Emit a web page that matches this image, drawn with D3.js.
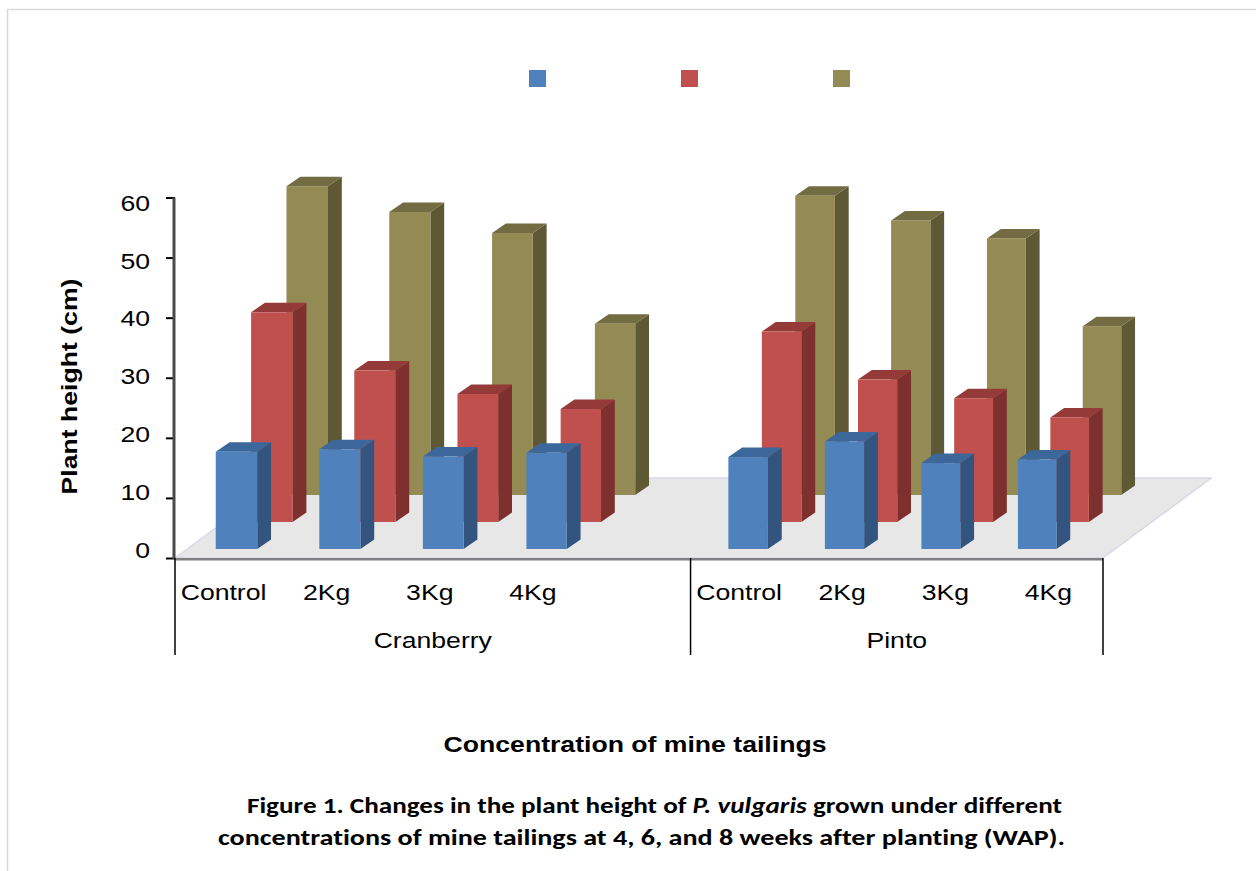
<!DOCTYPE html>
<html>
<head>
<meta charset="utf-8">
<script src="https://cdn.jsdelivr.net/npm/d3@7"></script>
<style>
  html, body { margin: 0; padding: 0; background: #ffffff; }
  svg { display: block; }
  text { font-variant-ligatures: none; }
</style>
</head>
<body>
<script>
// ---- Data -------------------------------------------------------------
const groups = ["Cranberry", "Pinto"];
const treatments = ["Control", "2Kg", "3Kg", "4Kg"];
// Cranberry block carries one empty trailing category slot
const groupSlots = [5, 4];
const seriesNames = ["4 WAP", "6 WAP", "8 WAP"];
const seriesColors = [
  { front: "#4f81bd", side: "#32547e", top: "#3c679b" },
  { front: "#c0504d", side: "#7e302e", top: "#943a38" },
  { front: "#948a54", side: "#5e5834", top: "#736b41" }
];
// plant height (cm), order: Cranberry Control..4Kg, Pinto Control..4Kg
const wap4 = [16.2, 16.6, 15.4, 16.0, 15.3, 17.9, 14.3, 14.9];
const wap6 = [34.9, 25.2, 21.3, 18.8, 31.7, 23.7, 20.6, 17.4];
const wap8 = [51.4, 47.1, 43.6, 28.5, 49.8, 45.7, 42.7, 28.1];
const yTicks = [0, 10, 20, 30, 40, 50, 60];

// ---- Layout helpers ---------------------------------------------------
const W = 1256, H = 871;
const SX = 1.21;                       // horizontal text stretch
const FONT = "'Liberation Sans', Arial, sans-serif";

const svg = d3.select("body").append("svg")
  .attr("width", W).attr("height", H)
  .attr("viewBox", `0 0 ${W} ${H}`);

// chart area border
svg.append("path")
  .attr("d", `M7.5,${H} V9.5 H${W}`)
  .attr("fill", "none").attr("stroke", "#d9d9d9").attr("stroke-width", 1.5);

function label(parent, x, y, txt, o = {}) {
  return parent.append("text")
    .attr("transform", `translate(${x},${y}) rotate(${o.rotate || 0}) scale(${o.sx || SX},1)`)
    .attr("text-anchor", o.anchor || "middle")
    .style("font-family", o.family || FONT)
    .style("font-size", (o.size || 22) + "px")
    .style("font-weight", o.weight || "normal")
    .style("font-style", o.style || "normal")
    .attr("fill", "#000")
    .text(txt);
}

// ---- Slots (category positions) ---------------------------------------
const slots = [];
groups.forEach((g, gi) => {
  for (let k = 0; k < groupSlots[gi]; k++) {
    slots.push({ group: g, label: treatments[k] || "", filled: k < treatments.length });
  }
});
const slotIndex = d3.range(slots.length);
const xSlot = d3.scaleBand().domain(slotIndex).range([175, 1103]).padding(0);

// slot position of every data point (empty slots skipped)
const dataSlot = slotIndex.filter(i => slots[i].filled);

// ---- Scales -------------------------------------------------------------
const y = d3.scaleLinear().domain([0, 60]).range([558, 197.5]);
const yLabel = d3.scaleLinear().domain([0, 60]).range([558, 210.7]);
// bar centres on the front plane (perspective compresses to the right)
const xBar = d3.scaleLinear().domain([0, 3, 5, 8]).range([224.7, 535.2, 737, 1026.4]);
const depthK = d3.scaleLinear().domain([225, 1026]).range([1.31, 1.20]);
const barW = d3.scaleLinear().domain([225, 1026]).range([41.5, 38.5]);
const rowZ = d3.scaleLinear().domain([0, 2]).range([9, 63]);
const SIDE_DY = 9.5, SIDE_DX = 13.8;

// ---- Floor ----------------------------------------------------------------
const floorDepth = 80, floorK = 1.355;
const fx0 = xSlot(0), fx1 = xSlot(slots.length - 1) + xSlot.bandwidth(), fy = y(0);
svg.append("path")
  .attr("d", `M${fx0},${fy} L${fx1},${fy} L${fx1 + floorDepth * floorK},${fy - floorDepth} L${fx0 + floorDepth * floorK},${fy - floorDepth} Z`)
  .attr("fill", "#e7e7e7").attr("stroke", "#dcd6ea").attr("stroke-width", 1.5)
  .attr("stroke-linejoin", "round");

// ---- Bars -----------------------------------------------------------------
const series = [wap4, wap6, wap8];
const bars = [];
series.forEach((vals, r) => {
  vals.forEach((v, j) => bars.push({ row: r, pos: dataSlot[j], value: v }));
});
// back rows first so nearer rows overlap them
bars.sort((a, b) => b.row - a.row || a.pos - b.pos);

const barG = svg.append("g");
bars.forEach(b => {
  const xc = xBar(b.pos);
  const k = depthK(xc);
  const w = barW(xc);
  const z = rowZ(b.row);
  const yb = y(0) - z;
  const h = y(0) - y(b.value);
  const yt = yb - h;
  const x0 = xc + z * k - w / 2;
  const x1 = x0 + w;
  const c = seriesColors[b.row];
  const g = barG.append("g");
  // right side face
  g.append("path")
    .attr("d", `M${x1},${yb} L${x1},${yt} L${x1 + SIDE_DX},${yt - SIDE_DY} L${x1 + SIDE_DX},${yb - SIDE_DY} Z`)
    .attr("fill", c.side);
  // top face
  g.append("path")
    .attr("d", `M${x0},${yt} L${x1},${yt} L${x1 + SIDE_DX},${yt - SIDE_DY} L${x0 + SIDE_DX},${yt - SIDE_DY} Z`)
    .attr("fill", c.top);
  // front face
  g.append("rect")
    .attr("x", x0).attr("y", yt).attr("width", w).attr("height", h)
    .attr("fill", c.front);
});

// floor front edge
svg.append("line")
  .attr("x1", fx0).attr("x2", fx1).attr("y1", fy + 1.2).attr("y2", fy + 1.2)
  .attr("stroke", "#7f7f7f").attr("stroke-width", 2.4);

// ---- Value axis ------------------------------------------------------------
const yAxis = d3.axisLeft(y).tickValues(yTicks).tickSize(9).tickFormat("");
const yAxisG = svg.append("g").attr("transform", "translate(175,0)").call(yAxis);
yAxisG.select(".domain").remove();
yAxisG.selectAll(".tick line").attr("stroke", "#000").attr("stroke-width", 2);
svg.append("line")
  .attr("x1", 174).attr("x2", 174).attr("y1", y(60)).attr("y2", y(0) + 1)
  .attr("stroke", "#4a4a4a").attr("stroke-width", 3);

yTicks.forEach(t => label(svg, 150, yLabel(t), String(t), { anchor: "end" }));

label(svg, 76.5, 386.5, "Plant height (cm)", { rotate: -90, weight: "bold" });

// ---- Category axis ---------------------------------------------------------
const bounds = [];
let acc = 0;
groupSlots.forEach(n => {
  bounds.push(acc);
  acc += n;
});
bounds.push(acc);
const boundX = bi => bi < slots.length ? xSlot(bi) : xSlot(slots.length - 1) + xSlot.bandwidth();
bounds.forEach(bi => {
  const x = boundX(bi);
  svg.append("line")
    .attr("x1", x).attr("x2", x).attr("y1", y(0)).attr("y2", 655)
    .attr("stroke", "#000").attr("stroke-width", 1.5);
});

slots.forEach((s, i) => {
  if (!s.label) return;
  label(svg, xSlot(i) + xSlot.bandwidth() / 2 - 3, 600, s.label);
});
groups.forEach((g, gi) => {
  label(svg, (boundX(bounds[gi]) + boundX(bounds[gi + 1])) / 2, 648, g);
});

label(svg, 635, 752, "Concentration of mine tailings", { weight: "bold" });

// ---- Legend (colour keys) ----------------------------------------------------
const legendX = d3.scalePoint().domain(seriesNames).range([529, 833]);
svg.append("g").selectAll("rect").data(seriesNames).join("rect")
  .attr("x", d => legendX(d)).attr("y", 70)
  .attr("width", 17).attr("height", 17)
  .attr("fill", (d, i) => seriesColors[i].front);

// ---- Caption ------------------------------------------------------------------
const capFont = "Carlito, Lato, 'Liberation Sans', sans-serif";
const cap1 = svg.append("text")
  .attr("x", 247).attr("y", 813)
  .attr("textLength", 815).attr("lengthAdjust", "spacingAndGlyphs")
  .style("font-family", capFont).style("font-size", "22px").style("font-weight", "bold");
cap1.append("tspan").text("Figure 1. Changes in the plant height of ");
cap1.append("tspan").style("font-style", "italic").text("P. vulgaris");
cap1.append("tspan").text(" grown under different");

svg.append("text")
  .attr("x", 218).attr("y", 845)
  .attr("textLength", 847).attr("lengthAdjust", "spacingAndGlyphs")
  .style("font-family", capFont).style("font-size", "22px").style("font-weight", "bold")
  .text("concentrations of mine tailings at 4, 6, and 8 weeks after planting (WAP).");
</script>
</body>
</html>
